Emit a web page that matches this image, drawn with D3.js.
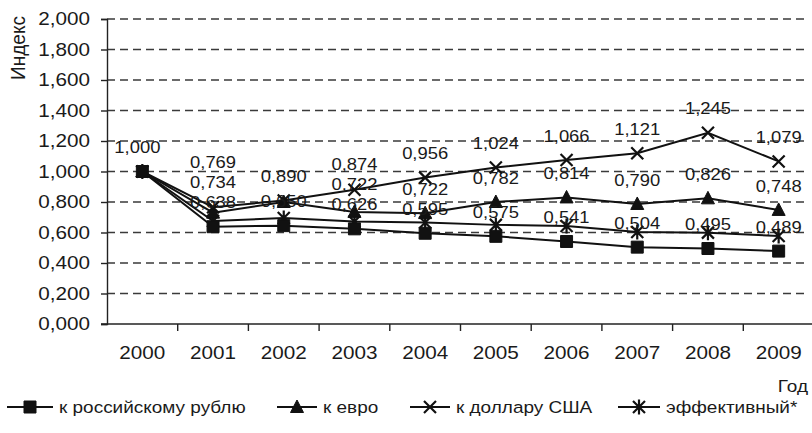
<!DOCTYPE html>
<html>
<head>
<meta charset="utf-8">
<script src="https://cdn.jsdelivr.net/npm/d3@7"></script>
<style>
  body { margin: 0; background: #fff; }
  text { font-family: "Liberation Sans", Arial, sans-serif; fill: #1a1a1a; }
</style>
</head>
<body>
<div id="chart"></div>
<script>
// years on the x axis
var years = ["2000", "2001", "2002", "2003", "2004", "2005", "2006", "2007", "2008", "2009"];
// plotted index values
var rubleVals = [1.000, 0.638, 0.645, 0.624, 0.595, 0.575, 0.541, 0.504, 0.495, 0.478];
var euroVals = [1.000, 0.730, 0.800, 0.735, 0.727, 0.800, 0.830, 0.787, 0.824, 0.748];
var dollarVals = [1.000, 0.765, 0.810, 0.880, 0.960, 1.026, 1.075, 1.120, 1.254, 1.066];
var effectiveVals = [1.000, 0.675, 0.695, 0.672, 0.665, 0.650, 0.642, 0.603, 0.599, 0.577];
// value labels as printed on the chart
var rubleLabels = [null, "0,638", "0,650", "0,626", "0,595", "0,575", "0,541", "0,504", "0,495", "0,489"];
var euroLabels = [null, "0,734", null, "0,722", "0,722", "0,782", "0,814", "0,790", "0,826", "0,748"];
var dollarLabels = ["1,000", "0,769", "0,890", "0,874", "0,956", "1,024", "1,066", "1,121", "1,245", "1,079"];
var yTicks = [0, 0.2, 0.4, 0.6, 0.8, 1.0, 1.2, 1.4, 1.6, 1.8, 2.0];
var seriesNames = ["к российскому рублю", "к евро", "к доллару США", "эффективный*"];

var width = 812, height = 433;
var svg = d3.select("#chart").append("svg")
    .attr("width", width)
    .attr("height", height);

var x = d3.scaleBand().domain(years).range([107, 814]).padding(0);
var y = d3.scaleLinear().domain([0, 2]).range([324, 19]);
var fmt = function (v) { return d3.format(".3f")(v).replace(".", ","); };

// the scan's lettering is a little wide, so text is stretched horizontally
var STRETCH = 1.15;
function stext(g, tx, ty, str, size, anchor) {
    return g.append("text")
        .attr("transform", "translate(" + tx + "," + ty + ") scale(" + STRETCH + ",1)")
        .attr("text-anchor", anchor || "start")
        .attr("dy", "0.35em")
        .attr("font-size", size)
        .text(str);
}

// dashed grid
svg.append("g").selectAll("line").data(yTicks.filter(function (d) { return d > 0; }))
    .enter().append("line")
    .attr("x1", 107).attr("x2", 808)
    .attr("y1", function (d) { return y(d); })
    .attr("y2", function (d) { return y(d); })
    .attr("stroke", "#3a3a3a")
    .attr("stroke-width", 1.4)
    .attr("stroke-dasharray", "8,5");

// y axis
var yAxis = svg.append("g").attr("transform", "translate(107,0)")
    .call(d3.axisLeft(y).tickValues(yTicks).tickFormat("").tickSize(6));
yAxis.select(".domain").attr("stroke", "#222").attr("stroke-width", 1.4);
yAxis.selectAll(".tick line").attr("stroke", "#222").attr("stroke-width", 1.4);
var ylg = svg.append("g");
yTicks.forEach(function (t) { stext(ylg, 90, y(t), fmt(t), 18, "end"); });

// x axis: ticks at band boundaries
svg.append("line").attr("x1", 101).attr("x2", 812).attr("y1", 324).attr("y2", 324)
    .attr("stroke", "#222").attr("stroke-width", 1.4);
svg.append("g").selectAll("line").data(years)
    .enter().append("line")
    .attr("x1", function (d) { return x(d) + x.bandwidth(); })
    .attr("x2", function (d) { return x(d) + x.bandwidth(); })
    .attr("y1", 324).attr("y2", 331)
    .attr("stroke", "#222").attr("stroke-width", 1.4);
var xlg = svg.append("g");
years.forEach(function (yr) { stext(xlg, x(yr) + x.bandwidth() / 2, 353, yr, 18, "middle"); });

// axis titles
svg.append("text")
    .attr("transform", "translate(25,48) rotate(-90) scale(1,1.1)")
    .attr("text-anchor", "middle")
    .attr("font-size", 19)
    .text("Индекс");
stext(svg, 808, 386, "Год", 16.5, "end");

// marker shapes
var markers = {
    square: "M-6,-6H6V6H-6Z",
    triangle: "M0,-7L6.5,5.5L-6.5,5.5Z",
    cross: "M-6,-6L6,6M-6,6L6,-6",
    star: "M-6,-6L6,6M-6,6L6,-6M0,-7.5L0,7.5"
};
var series = [
    { name: seriesNames[0], values: rubleVals, marker: "square", filled: true },
    { name: seriesNames[1], values: euroVals, marker: "triangle", filled: true },
    { name: seriesNames[2], values: dollarVals, marker: "cross", filled: false },
    { name: seriesNames[3], values: effectiveVals, marker: "star", filled: false }
];

var line = d3.line()
    .x(function (d, i) { return x(years[i]) + x.bandwidth() / 2; })
    .y(function (d) { return y(d); });

svg.append("g").selectAll("path").data(series)
    .enter().append("path")
    .attr("d", function (s) { return line(s.values); })
    .attr("fill", "none")
    .attr("stroke", "#111")
    .attr("stroke-width", 2);

function drawMarker(g, s, px, py) {
    g.append("path")
        .attr("d", markers[s.marker])
        .attr("transform", "translate(" + px + "," + py + ")")
        .attr("fill", s.filled ? "#111" : "none")
        .attr("stroke", "#111")
        .attr("stroke-width", s.filled ? 1 : 2.2);
}

var mg = svg.append("g");
series.slice().reverse().forEach(function (s) {
    s.values.forEach(function (v, i) {
        drawMarker(mg, s, x(years[i]) + x.bandwidth() / 2, y(v));
    });
});

// value labels, stacked upward so they don't collide
var labelSets = [
    { values: rubleVals, labels: rubleLabels },
    { values: euroVals, labels: euroLabels },
    { values: dollarVals, labels: dollarLabels }
];
var lg = svg.append("g");
years.forEach(function (yr, i) {
    var items = [];
    labelSets.forEach(function (ls) {
        if (ls.labels[i]) items.push({ text: ls.labels[i], y: y(ls.values[i]) - 24 });
    });
    items.sort(function (a, b) { return b.y - a.y; });
    for (var k = 1; k < items.length; k++) {
        if (items[k - 1].y - items[k].y < 20) items[k].y = items[k - 1].y - 20;
    }
    items.forEach(function (it) {
        stext(lg, x(yr) + x.bandwidth() / 2 - (i === 0 ? 5 : 0), it.y, it.text, 16, "middle");
    });
});

// legend
var legendX = [7, 277, 410, 618];
var legendLen = [46, 40, 40, 42];
var leg = svg.append("g");
series.forEach(function (s, i) {
    var lx = legendX[i], ly = 407;
    leg.append("line")
        .attr("x1", lx).attr("x2", lx + legendLen[i])
        .attr("y1", ly).attr("y2", ly)
        .attr("stroke", "#111").attr("stroke-width", 2);
    drawMarker(leg, s, lx + legendLen[i] / 2, ly);
    stext(leg, lx + legendLen[i] + 6, ly, s.name, 16.5, "start");
});
</script>
</body>
</html>
